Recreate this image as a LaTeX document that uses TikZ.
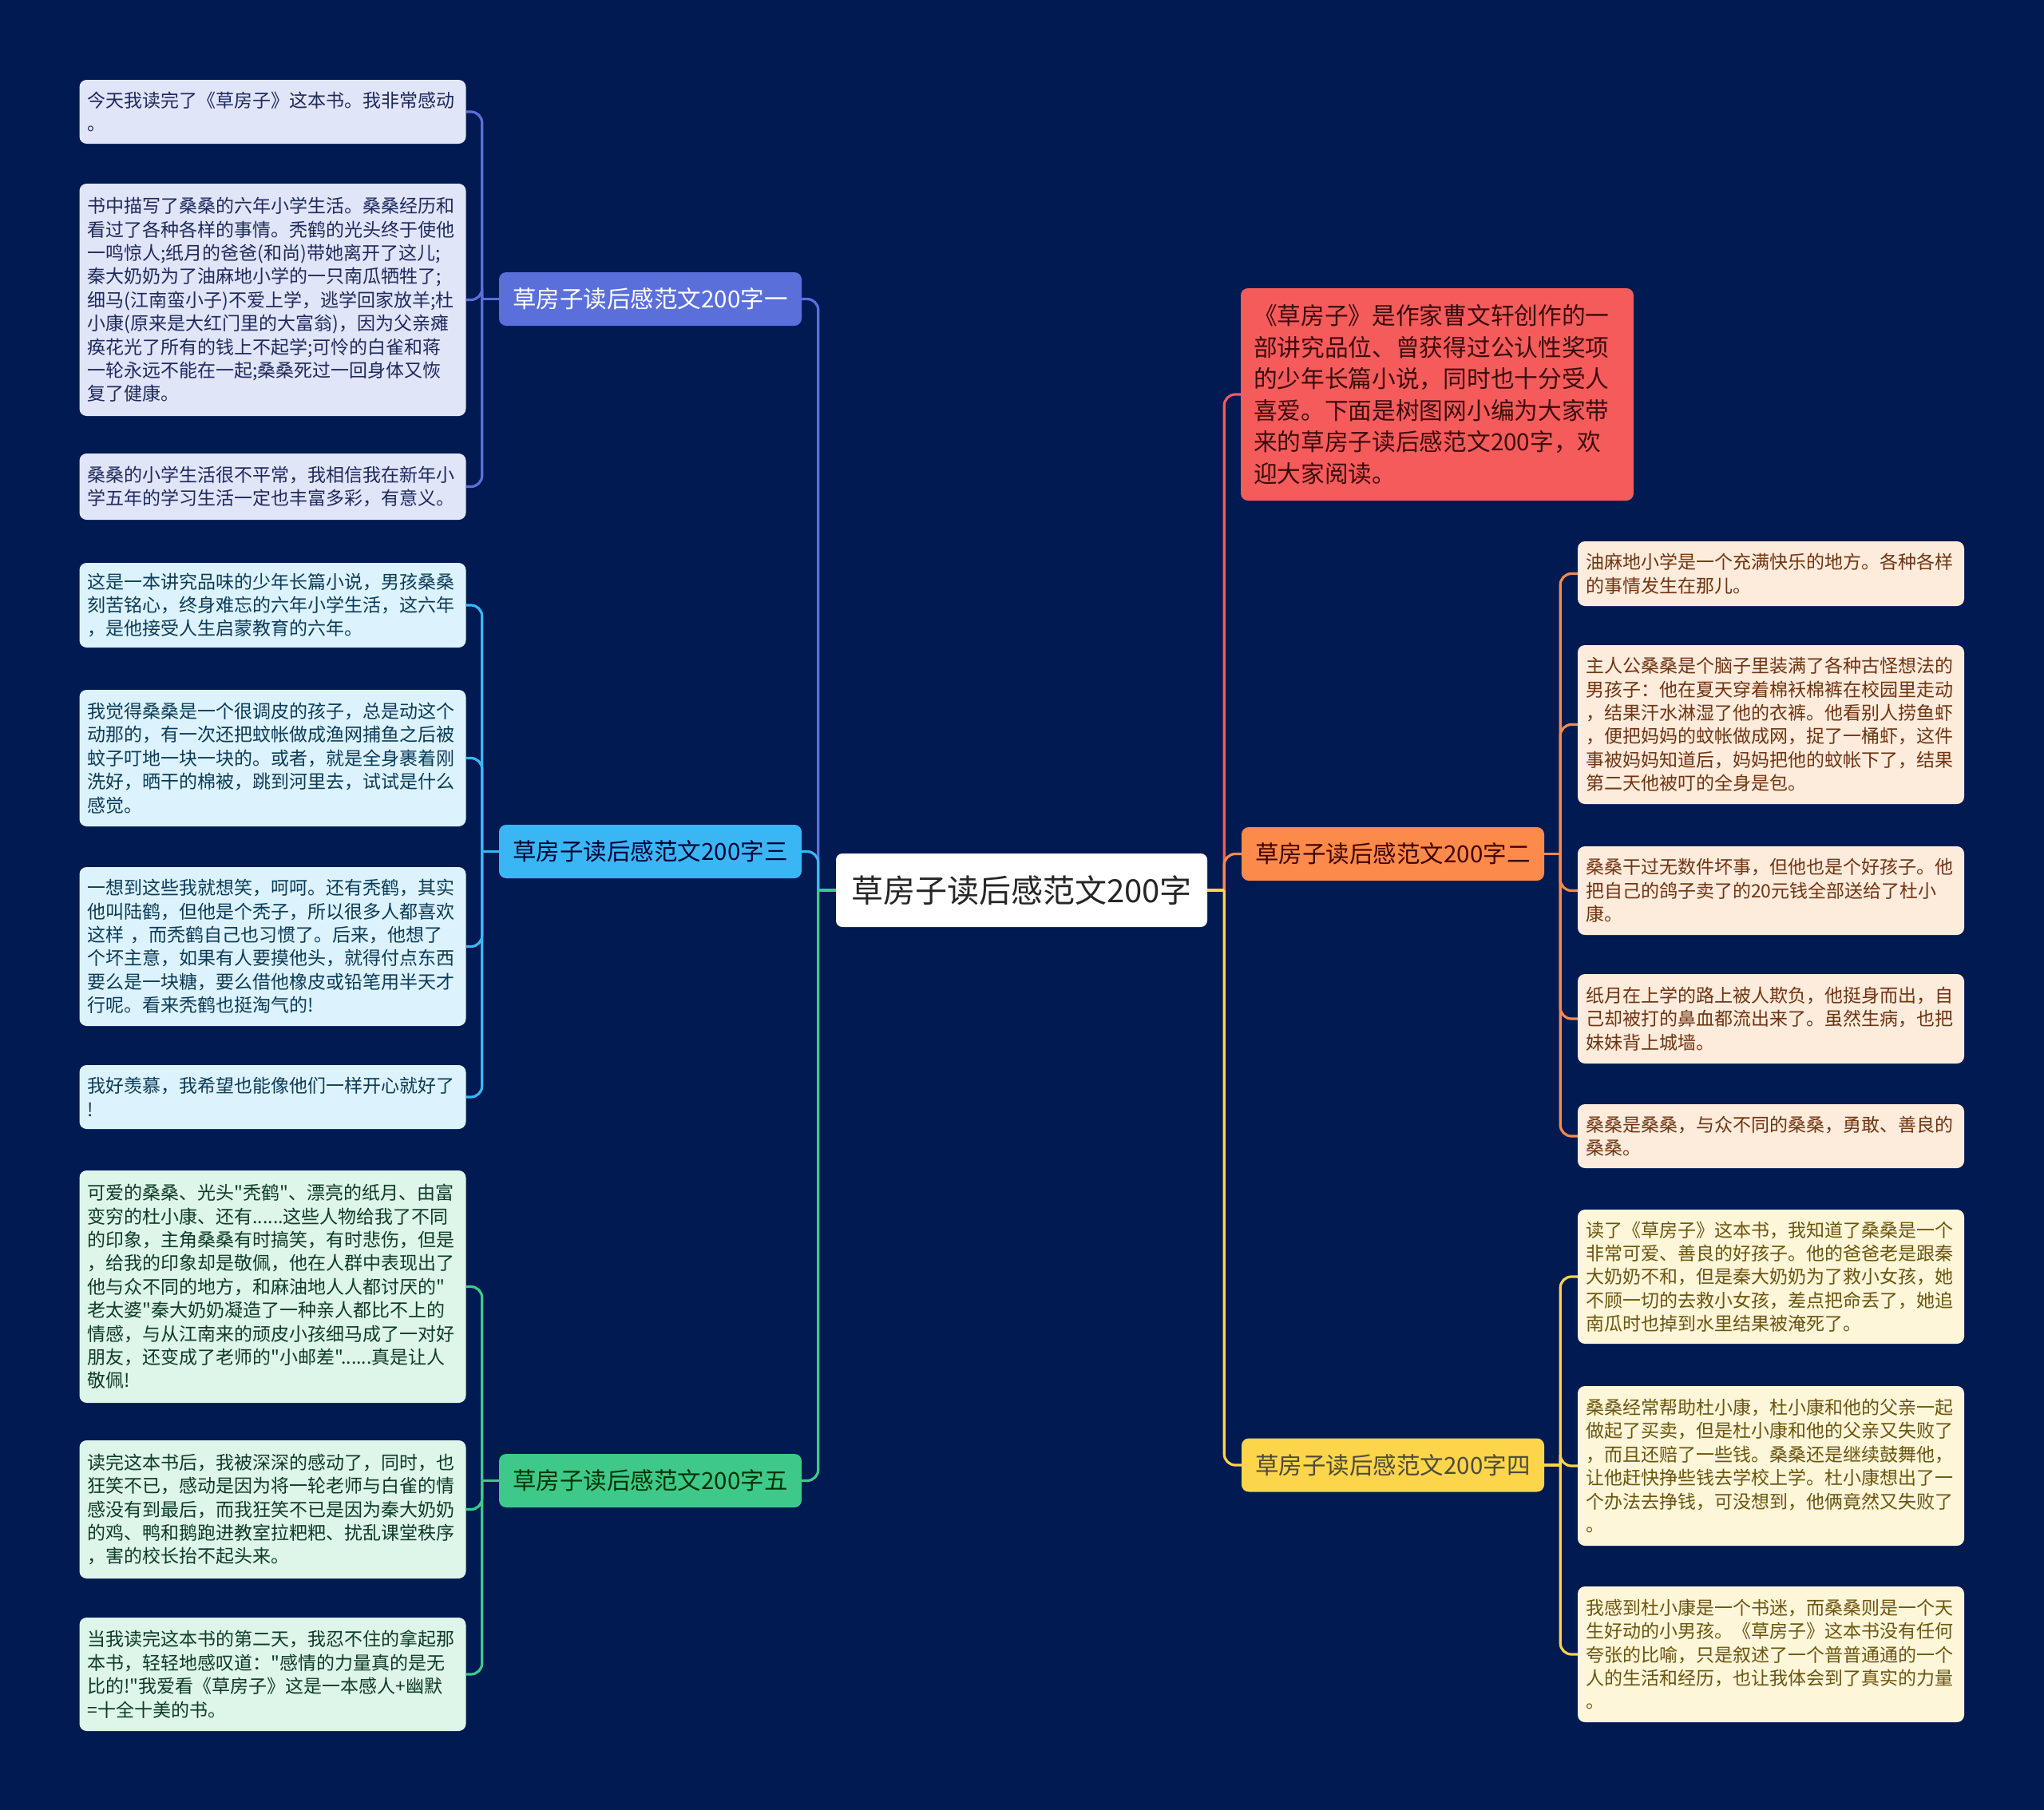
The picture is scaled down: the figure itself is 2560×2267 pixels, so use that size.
\documentclass[tikz,border=0pt]{standalone}
\usepackage{fontspec}
\setmainfont{Noto Sans CJK SC}[Ligatures=TeXOff]
\definecolor{bgc}{HTML}{011A52}
\definecolor{cA}{HTML}{5B6FDB}\definecolor{fA}{HTML}{E1E5F8}\definecolor{tA}{HTML}{1E2A5C}
\definecolor{cC}{HTML}{3AB6F5}\definecolor{fC}{HTML}{DCF3FD}\definecolor{tC}{HTML}{0C3B58}
\definecolor{cE}{HTML}{3EC98A}\definecolor{fE}{HTML}{DEF5EA}\definecolor{tE}{HTML}{0E3C26}
\definecolor{cR}{HTML}{F55B5B}\definecolor{tR}{HTML}{3B0C0C}
\definecolor{cB}{HTML}{FC8A4A}\definecolor{fB}{HTML}{FDEBDC}\definecolor{tB}{HTML}{6E3512}
\definecolor{cD}{HTML}{FCD54A}\definecolor{fD}{HTML}{FDF6D9}\definecolor{tD}{HTML}{6B5510}
\tikzset{
 leafbox/.style={rounded corners=9, text width=464, align=left, inner xsep=10, inner ysep=0, font=\fontsize{23}{29.4}\selectfont},
 leafA/.style={leafbox, fill=fA, text=tA},
 leafC/.style={leafbox, fill=fC, text=tC},
 leafE/.style={leafbox, fill=fE, text=tE},
 leafB/.style={leafbox, fill=fB, text=tB},
 leafD/.style={leafbox, fill=fD, text=tD},
 branchbox/.style={rounded corners=9, minimum width=379, minimum height=67, inner sep=0, font=\fontsize{29.5}{34}\selectfont},
 conn/.style={line width=3.2, rounded corners=14},
 stub/.style={line width=3.2},
}
\begin{document}
\begin{tikzpicture}[x=1pt,y=-1pt]
\fill[bgc] (0,0) rectangle (2560,2267);
\useasboundingbox (0,0) rectangle (2560,2267);
% root
\node[fill=white, text=black!85, rounded corners=8, minimum width=465, minimum height=92, inner sep=0, font=\fontsize{40}{46}\selectfont] (root) at (1279.5,1115) {草房子读后感范文200字};
% branches
\node[branchbox, fill=cA, text=white] (b1) at (814.5,374.5) {草房子读后感范文200字一};
\node[branchbox, fill=cC, text=black!80!blue] (b3) at (814.5,1066.5) {草房子读后感范文200字三};
\node[branchbox, fill=cE, text=black!80!green] (b5) at (814.5,1854.5) {草房子读后感范文200字五};
\node[branchbox, fill=cB, text=black!75!red] (b2) at (1744.5,1069.5) {草房子读后感范文200字二};
\node[branchbox, fill=cD, text=black!80!yellow] (b4) at (1744.5,1835) {草房子读后感范文200字四};
\node[fill=cR, text=tR, rounded corners=9, text width=460, minimum height=266, inner xsep=16, inner ysep=0, align=left, font=\fontsize{29.7}{39.5}\selectfont] (red) at (1800,494) {《草房子》是作家曹文轩创作的一\\部讲究品位、曾获得过公认性奖项\\的少年长篇小说，同时也十分受人\\喜爱。下面是树图网小编为大家带\\来的草房子读后感范文200字，欢\\迎大家阅读。};
% left leaves
\node[leafA, minimum height=80] (l1a) at (341.5,140) {今天我读完了《草房子》这本书。我非常感动\\。};
\node[leafA, minimum height=291] (l1b) at (341.5,375.5) {书中描写了桑桑的六年小学生活。桑桑经历和\\看过了各种各样的事情。秃鹤的光头终于使他\\一鸣惊人;纸月的爸爸(和尚)带她离开了这儿;\\秦大奶奶为了油麻地小学的一只南瓜牺牲了;\\细马(江南蛮小子)不爱上学，逃学回家放羊;杜\\小康(原来是大红门里的大富翁)，因为父亲瘫\\痪花光了所有的钱上不起学;可怜的白雀和蒋\\一轮永远不能在一起;桑桑死过一回身体又恢\\复了健康。};
\node[leafA, minimum height=83] (l1c) at (341.5,609.5) {桑桑的小学生活很不平常，我相信我在新年小\\学五年的学习生活一定也丰富多彩，有意义。};
\node[leafC, minimum height=106] (l3a) at (341.5,758) {这是一本讲究品味的少年长篇小说，男孩桑桑\\刻苦铭心，终身难忘的六年小学生活，这六年\\，是他接受人生启蒙教育的六年。};
\node[leafC, minimum height=171] (l3b) at (341.5,949.5) {我觉得桑桑是一个很调皮的孩子，总是动这个\\动那的，有一次还把蚊帐做成渔网捕鱼之后被\\蚊子叮地一块一块的。或者，就是全身裹着刚\\洗好，晒干的棉被，跳到河里去，试试是什么\\感觉。};
\node[leafC, minimum height=199] (l3c) at (341.5,1185.5) {一想到这些我就想笑，呵呵。还有秃鹤，其实\\他叫陆鹤，但他是个秃子，所以很多人都喜欢\\这样 ，而秃鹤自己也习惯了。后来，他想了\\个坏主意，如果有人要摸他头，就得付点东西\\要么是一块糖，要么借他橡皮或铅笔用半天才\\行呢。看来秃鹤也挺淘气的!};
\node[leafC, minimum height=80] (l3d) at (341.5,1374) {我好羡慕，我希望也能像他们一样开心就好了\\!};
\node[leafE, minimum height=291] (l5a) at (341.5,1611.5) {可爱的桑桑、光头"秃鹤"、漂亮的纸月、由富\\变穷的杜小康、还有......这些人物给我了不同\\的印象，主角桑桑有时搞笑，有时悲伤，但是\\，给我的印象却是敬佩，他在人群中表现出了\\他与众不同的地方，和麻油地人人都讨厌的"\\老太婆"秦大奶奶凝造了一种亲人都比不上的\\情感，与从江南来的顽皮小孩细马成了一对好\\朋友，还变成了老师的"小邮差"......真是让人\\敬佩!};
\node[leafE, minimum height=173] (l5b) at (341.5,1890.5) {读完这本书后，我被深深的感动了，同时，也\\狂笑不已，感动是因为将一轮老师与白雀的情\\感没有到最后，而我狂笑不已是因为秦大奶奶\\的鸡、鸭和鹅跑进教室拉粑粑、扰乱课堂秩序\\，害的校长抬不起头来。};
\node[leafE, minimum height=142] (l5c) at (341.5,2097) {当我读完这本书的第二天，我忍不住的拿起那\\本书，轻轻地感叹道："感情的力量真的是无\\比的!"我爱看《草房子》这是一本感人+幽默\\=十全十美的书。};
% right leaves
\node[leafB, minimum height=81] (r2a) at (2218,718.5) {油麻地小学是一个充满快乐的地方。各种各样\\的事情发生在那儿。};
\node[leafB, minimum height=199] (r2b) at (2218,907.5) {主人公桑桑是个脑子里装满了各种古怪想法的\\男孩子：他在夏天穿着棉袄棉裤在校园里走动\\，结果汗水淋湿了他的衣裤。他看别人捞鱼虾\\，便把妈妈的蚊帐做成网，捉了一桶虾，这件\\事被妈妈知道后，妈妈把他的蚊帐下了，结果\\第二天他被叮的全身是包。};
\node[leafB, minimum height=111] (r2c) at (2218,1115.5) {桑桑干过无数件坏事，但他也是个好孩子。他\\把自己的鸽子卖了的20元钱全部送给了杜小\\康。};
\node[leafB, minimum height=112] (r2d) at (2218,1276) {纸月在上学的路上被人欺负，他挺身而出，自\\己却被打的鼻血都流出来了。虽然生病，也把\\妹妹背上城墙。};
\node[leafB, minimum height=80] (r2e) at (2218,1423) {桑桑是桑桑，与众不同的桑桑，勇敢、善良的\\桑桑。};
\node[leafD, minimum height=168] (r4a) at (2218,1599) {读了《草房子》这本书，我知道了桑桑是一个\\非常可爱、善良的好孩子。他的爸爸老是跟秦\\大奶奶不和，但是秦大奶奶为了救小女孩，她\\不顾一切的去救小女孩，差点把命丢了，她追\\南瓜时也掉到水里结果被淹死了。};
\node[leafD, minimum height=200] (r4b) at (2218,1836) {桑桑经常帮助杜小康，杜小康和他的父亲一起\\做起了买卖，但是杜小康和他的父亲又失败了\\，而且还赔了一些钱。桑桑还是继续鼓舞他，\\让他赶快挣些钱去学校上学。杜小康想出了一\\个办法去挣钱，可没想到，他俩竟然又失败了\\。};
\node[leafD, minimum height=170] (r4c) at (2218,2072) {我感到杜小康是一个书迷，而桑桑则是一个天\\生好动的小男孩。《草房子》这本书没有任何\\夸张的比喻，只是叙述了一个普普通通的一个\\人的生活和经历，也让我体会到了真实的力量\\。};
% root connectors
\coordinate (tl) at ([xshift=-22pt]root.west);
\coordinate (tr) at ([xshift=21pt]root.east);
\draw[conn, cA] (tl) |- (b1.east);
\draw[conn, cC] (tl) |- (b3.east);
\draw[conn, cE] (tl) |- (b5.east);
\draw[stub, cE] (root.west) -- (tl);
\draw[conn, cR] (tr) |- (red.west);
\draw[conn, cB] (tr) |- (b2.west);
\draw[conn, cD] (tr) |- (b4.west);
\draw[stub, cD] (root.east) -- (tr);
% branch connectors
\coordinate (t1) at ([xshift=-21pt]b1.west);
\coordinate (t3) at ([xshift=-21pt]b3.west);
\coordinate (t5) at ([xshift=-21pt]b5.west);
\coordinate (t2) at ([xshift=20pt]b2.east);
\coordinate (t4) at ([xshift=20pt]b4.east);
\foreach \l in {l1a,l1b,l1c} \draw[conn, cA] (t1) |- (\l.east);
\draw[stub, cA] (b1.west) -- (t1);
\foreach \l in {l3a,l3b,l3c,l3d} \draw[conn, cC] (t3) |- (\l.east);
\draw[stub, cC] (b3.west) -- (t3);
\foreach \l in {l5a,l5b,l5c} \draw[conn, cE] (t5) |- (\l.east);
\draw[stub, cE] (b5.west) -- (t5);
\foreach \l in {r2a,r2b,r2c,r2d,r2e} \draw[conn, cB] (t2) |- (\l.west);
\draw[stub, cB] (b2.east) -- (t2);
\foreach \l in {r4a,r4b,r4c} \draw[conn, cD] (t4) |- (\l.west);
\draw[stub, cD] (b4.east) -- (t4);
\end{tikzpicture}
\end{document}
